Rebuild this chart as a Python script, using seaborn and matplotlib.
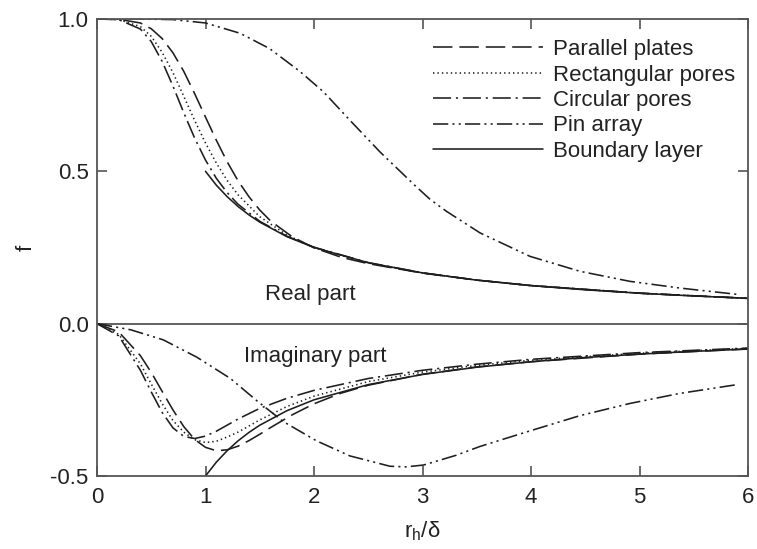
import matplotlib
matplotlib.use("Agg")
import matplotlib.pyplot as plt
import seaborn as sns
import pandas as pd

# ---------------- data ----------------
series_names = ["Parallel plates", "Rectangular pores", "Circular pores",
                "Pin array", "Boundary layer"]

par_x = [0, 0.2, 0.4, 0.5, 0.6, 0.7, 0.8, 0.9, 1.0, 1.1, 1.2, 1.3, 1.4, 1.5,
         1.6, 1.8, 2.0, 2.25, 2.5, 3.0, 3.5, 4.0, 5.0, 6.0]
par_re = [1.0, 0.999, 0.987, 0.968, 0.936, 0.889, 0.828, 0.755, 0.678, 0.602,
          0.531, 0.469, 0.417, 0.373, 0.337, 0.285, 0.249, 0.218, 0.197, 0.166,
          0.143, 0.125, 0.100, 0.083]
par_im = [0.0, -0.027, -0.105, -0.160, -0.222, -0.283, -0.338, -0.380, -0.406,
          -0.417, -0.414, -0.402, -0.384, -0.363, -0.341, -0.299, -0.263, -0.228,
          -0.202, -0.166, -0.142, -0.125, -0.100, -0.083]

rect_x = [0, 0.2, 0.4, 0.5, 0.6, 0.7, 0.8, 0.9, 1.0, 1.1, 1.2, 1.3, 1.5, 1.75,
          2.0, 2.5, 3.0, 3.5, 4.0, 5.0, 6.0]
rect_re = [1.0, 0.998, 0.975, 0.943, 0.891, 0.824, 0.746, 0.667, 0.593, 0.527,
           0.470, 0.423, 0.351, 0.291, 0.250, 0.199, 0.166, 0.143, 0.125, 0.100,
           0.083]
rect_im = [0.0, -0.035, -0.132, -0.198, -0.262, -0.318, -0.356, -0.381, -0.390,
           -0.386, -0.372, -0.356, -0.316, -0.272, -0.238, -0.190, -0.159, -0.137,
           -0.120, -0.097, -0.081]

circ_x = [0, 0.2, 0.4, 0.5, 0.6, 0.7, 0.8, 0.9, 1.0, 1.1, 1.2, 1.3, 1.5, 1.75,
          2.0, 2.5, 3.0, 3.5, 4.0, 5.0, 6.0]
circ_re = [1.0, 0.998, 0.967, 0.926, 0.861, 0.780, 0.692, 0.609, 0.537, 0.477,
           0.430, 0.392, 0.336, 0.287, 0.251, 0.2005, 0.167, 0.143, 0.125, 0.100,
           0.083]
circ_im = [0.0, -0.040, -0.153, -0.224, -0.291, -0.342, -0.370, -0.377, -0.369,
           -0.353, -0.333, -0.313, -0.278, -0.245, -0.219, -0.180, -0.153, -0.133,
           -0.117, -0.095, -0.080]

pin_re_x = [0, 0.4, 0.7, 1.0, 1.32, 1.59, 1.87, 2.09, 2.33, 2.61, 2.92, 3.07,
            3.22, 3.53, 3.99, 4.45, 4.91, 5.37, 5.93]
pin_re = [1.0, 1.0, 0.998, 0.987, 0.953, 0.903, 0.828, 0.760, 0.668, 0.563,
          0.457, 0.408, 0.369, 0.298, 0.221, 0.172, 0.139, 0.117, 0.095]
pin_im_x = [0, 0.31, 0.61, 0.92, 1.23, 1.48, 1.72, 2.02, 2.33, 2.70, 2.85, 3.01,
            3.31, 3.53, 3.99, 4.45, 4.91, 5.37, 5.90]
pin_im = [0.0, -0.020, -0.053, -0.110, -0.180, -0.255, -0.322, -0.384, -0.434,
          -0.468, -0.470, -0.464, -0.432, -0.403, -0.352, -0.302, -0.262, -0.229,
          -0.200]

bl_x = [1.0, 1.1, 1.2, 1.3, 1.4, 1.5, 1.75, 2.0, 2.5, 3.0, 3.5, 4.0, 4.5, 5.0,
        5.5, 6.0]
bl_re = [0.5, 0.4545, 0.4167, 0.3846, 0.3571, 0.3333, 0.2857, 0.25, 0.2,
         0.1667, 0.1429, 0.125, 0.1111, 0.1, 0.0909, 0.0833]
bl_im = [-0.5, -0.4545, -0.4167, -0.3846, -0.3571, -0.3333, -0.2857, -0.25,
         -0.2, -0.1667, -0.1429, -0.125, -0.1111, -0.1, -0.0909, -0.0833]

x_ticks = [0, 1, 2, 3, 4, 5, 6]
y_ticks = [-0.5, 0.0, 0.5, 1.0]
y_tick_labels = ["-0.5", "0.0", "0.5", "1.0"]

# ---------------- style ----------------
sns.set_style("ticks")
plt.rcParams["font.family"] = ["Liberation Sans", "DejaVu Sans"]
plt.rcParams["axes.unicode_minus"] = False
plt.rcParams["mathtext.fontset"] = "custom"
plt.rcParams["mathtext.rm"] = "Liberation Sans"
plt.rcParams["mathtext.it"] = "Liberation Sans:italic"
plt.rcParams["lines.scale_dashes"] = False

FS = 16
INK = "#1e1e1e"
TXT = "#222222"
AX = "#555555"
LW = 1.15

fig = plt.figure(figsize=(7.57, 5.49), dpi=100)
ax = fig.add_axes([97 / 757, 1 - 476 / 549, 651 / 757, 457 / 549])

linestyles = {
    "Parallel plates": (0, (14, 5)),
    "Rectangular pores": (0, (1.0, 2.2)),
    "Circular pores": (0, (13, 3.5, 1.5, 3.5)),
    "Pin array": (0, (11, 3, 1.5, 3, 1.5, 3)),
    "Boundary layer": "-",
}

curves = [
    ("Parallel plates", par_x, par_re, par_x, par_im),
    ("Rectangular pores", rect_x, rect_re, rect_x, rect_im),
    ("Circular pores", circ_x, circ_re, circ_x, circ_im),
    ("Pin array", pin_re_x, pin_re, pin_im_x, pin_im),
    ("Boundary layer", bl_x, bl_re, bl_x, bl_im),
]

ax.axhline(0, color=AX, lw=1.3, zorder=1)

handles = []
for name, xr, yr, xi, yi in curves:
    ls = linestyles[name]
    df_r = pd.DataFrame({"x": xr, "f": yr})
    df_i = pd.DataFrame({"x": xi, "f": yi})
    sns.lineplot(data=df_r, x="x", y="f", ax=ax, color=INK, linewidth=LW,
                 linestyle=ls, sort=False, label=name, legend=False)
    handles.append(ax.get_lines()[-1])
    sns.lineplot(data=df_i, x="x", y="f", ax=ax, color=INK, linewidth=LW,
                 linestyle=ls, sort=False, legend=False)

ax.set_xlim(0, 6)
ax.set_ylim(-0.5, 1.0)
ax.set_xticks(x_ticks)
ax.set_xticklabels([str(t) for t in x_ticks])
ax.set_yticks(y_ticks)
ax.set_yticklabels(y_tick_labels)

for sp in ax.spines.values():
    sp.set_visible(True)
    sp.set_color(AX)
    sp.set_linewidth(1.3)

ax.tick_params(axis="both", which="both", direction="in", top=True, right=True,
               length=7, width=1.2, color=AX, labelsize=FS, labelcolor=TXT)
ax.tick_params(axis="x", pad=8)
ax.tick_params(axis="y", pad=6)

ax.set_xlabel("r$_\\mathregular{h}$/δ", fontsize=FS, color=TXT, labelpad=8)
ax.set_ylabel("f", fontsize=FS, color=TXT, labelpad=10)

ax.text(1.963, 0.077, "Real part", ha="center", va="baseline", fontsize=FS,
        color=TXT)
ax.text(2.014, -0.127, "Imaginary part", ha="center", va="baseline",
        fontsize=FS, color=TXT)

leg = ax.legend(handles=handles, labels=series_names, loc="upper left",
                bbox_to_anchor=(0.516, 0.956), frameon=False, fontsize=FS,
                handlelength=4.95, handletextpad=0.45, labelspacing=0.2,
                borderpad=0, borderaxespad=0)
for t in leg.get_texts():
    t.set_color(TXT)

fig.savefig("out.png", dpi=100)
